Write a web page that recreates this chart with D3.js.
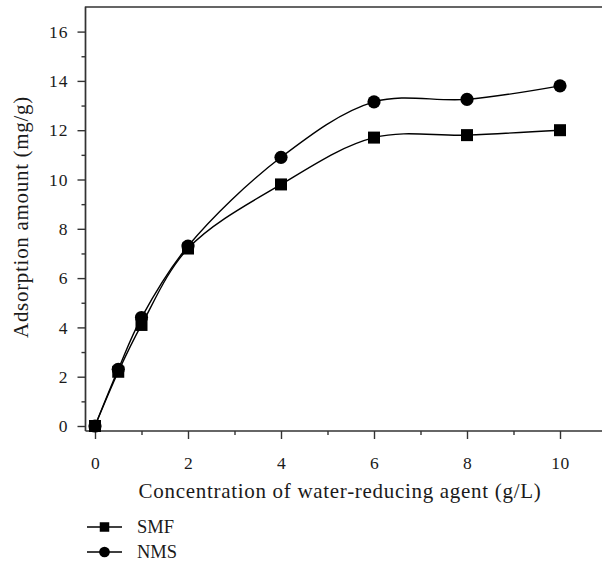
<!DOCTYPE html>
<html>
<head>
<meta charset="utf-8">
<script src="https://cdn.jsdelivr.net/npm/d3@7"></script>
<style>
    body { margin: 0; background: #fff; }
    svg { display: block; font-family: "Liberation Serif", "DejaVu Serif", serif; }
</style>
</head>
<body>
<svg id="chart" width="602" height="565"></svg>
<script>
// Concentration of water-reducing agent (g/L)
const concentrations = [0, 0.5, 1, 2, 4, 6, 8, 10];
// Adsorption amount (mg/g)
const smfValues = [0, 2.2, 4.1, 7.2, 9.8, 11.7, 11.8, 12.0];
const nmsValues = [0, 2.3, 4.4, 7.3, 10.9, 13.15, 13.25, 13.8];
const seriesNames = ['SMF', 'NMS'];
const xMajorTicks = [0, 2, 4, 6, 8, 10];
const xMinorTicks = [1, 3, 5, 7, 9];
const yMajorTicks = [0, 2, 4, 6, 8, 10, 12, 14, 16];
const yMinorTicks = [1, 3, 5, 7, 9, 11, 13, 15];

const svg = d3.select('#chart');

const plotLeft = 85.5, plotRight = 604, plotTop = 7, plotBottom = 431;

const x = d3.scaleLinear().domain([0, 10]).range([95, 560]);
const y = d3.scaleLinear().domain([0, 16]).range([426, 31.6]);

const axisColor = '#333';
const textColor = '#1a1a1a';

// frame (top line, right side runs off the picture)
svg.append('path')
    .attr('d', `M${plotLeft},${plotBottom}V${plotTop}H${plotRight}`)
    .attr('fill', 'none')
    .attr('stroke', axisColor)
    .attr('stroke-width', 1.4);

// x axis
const gx = svg.append('g').attr('transform', `translate(0,${plotBottom})`);
gx.call(d3.axisBottom(x).tickValues(xMajorTicks).tickSize(8).tickSizeOuter(0).tickFormat(d3.format('d')));
gx.append('g').call(d3.axisBottom(x).tickValues(xMinorTicks).tickSize(4).tickFormat(''))
    .select('.domain').remove();
gx.select('.domain').attr('d', `M${plotLeft},0H${plotRight}`);

// y axis
const gy = svg.append('g').attr('transform', `translate(${plotLeft},0)`);
gy.call(d3.axisLeft(y).tickValues(yMajorTicks).tickSize(8).tickSizeOuter(0).tickFormat(d3.format('d')));
gy.append('g').call(d3.axisLeft(y).tickValues(yMinorTicks).tickSize(4).tickFormat(''))
    .select('.domain').remove();
gy.select('.domain').attr('d', `M0,${plotTop}V${plotBottom}`);

svg.selectAll('.tick line, .domain').attr('stroke', axisColor).attr('stroke-width', 1.4);
gx.selectAll('.tick text').attr('font-size', 17.5).attr('fill', textColor).attr('dy', 27)
    .attr('letter-spacing', 0.5);
gy.selectAll('.tick text').attr('font-size', 17.5).attr('fill', textColor).attr('dx', -6)
    .attr('letter-spacing', 1);
svg.selectAll('g').attr('font-family', null);

// axis titles
svg.append('text')
    .attr('x', 340).attr('y', 498)
    .attr('text-anchor', 'middle')
    .attr('font-size', 21)
    .attr('letter-spacing', 0.7)
    .attr('fill', textColor)
    .text('Concentration of water-reducing agent (g/L)');

svg.append('text')
    .attr('transform', 'translate(28,217) rotate(-90)')
    .attr('text-anchor', 'middle')
    .attr('font-size', 21)
    .attr('letter-spacing', 0.7)
    .attr('fill', textColor)
    .text('Adsorption amount (mg/g)');

// series
const series = [
    { name: seriesNames[0], values: smfValues, shape: 'square' },
    { name: seriesNames[1], values: nmsValues, shape: 'circle' }
];

const line = d3.line()
    .x(d => x(d[0]))
    .y(d => y(d[1]))
    .curve(d3.curveCatmullRom.alpha(0.5));

function drawMarker(g, shape, cx, cy, size) {
    if (shape === 'square') {
        g.append('rect')
            .attr('x', cx - size / 2).attr('y', cy - size / 2)
            .attr('width', size).attr('height', size)
            .attr('fill', '#000');
    } else {
        g.append('circle')
            .attr('cx', cx).attr('cy', cy)
            .attr('r', size / 2 + 0.6)
            .attr('fill', '#000');
    }
}

series.forEach(s => {
    const pts = concentrations.map((c, i) => [c, s.values[i]]);
    svg.append('path')
        .datum(pts)
        .attr('d', line)
        .attr('fill', 'none')
        .attr('stroke', '#000')
        .attr('stroke-width', 1.4);
    const g = svg.append('g');
    pts.forEach(p => drawMarker(g, s.shape, x(p[0]), y(p[1]), 12));
});

// legend
series.forEach((s, i) => {
    const ly = 527 + i * 25;
    const g = svg.append('g');
    g.append('line')
        .attr('x1', 87).attr('x2', 122)
        .attr('y1', ly).attr('y2', ly)
        .attr('stroke', '#000').attr('stroke-width', 1.4);
    drawMarker(g, s.shape, 104.5, ly, 9.5);
    g.append('text')
        .attr('x', 137).attr('y', ly)
        .attr('dy', '0.35em')
        .attr('font-size', 18.5)
        .attr('fill', textColor)
        .text(s.name);
});
</script>
</body>
</html>
